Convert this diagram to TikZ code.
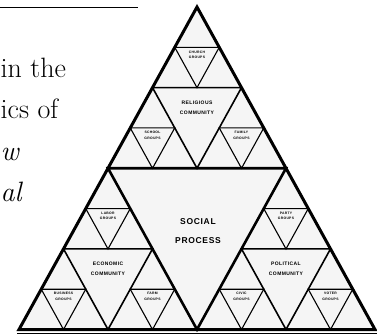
\documentclass[tikz,border=0pt]{standalone}
\usepackage{fontspec}
\newfontfamily\lblfont[LetterSpace=8]{Liberation Sans}
\tikzset{outertri/.style = {line width = 3pt, line join = miter}}
\tikzset{bigtri/.style = {draw, line width = 2.6pt, line join = miter}}
\tikzset{midtri/.style = {draw, line width = 1.6pt, line join = miter}}
\tikzset{smalltri/.style = {draw, line width = 1.1pt, line join = miter}}
\tikzset{biglabel/.style = {font = \lblfont\bfseries\fontsize{8.5}{19}\selectfont, align = center, inner sep = 0}}
\tikzset{midlabel/.style = {font = \lblfont\bfseries\fontsize{5}{10}\selectfont, align = center, inner sep = 0}}
\tikzset{smalllabel/.style = {font = \lblfont\bfseries\fontsize{3.4}{5.5}\selectfont, align = center, inner sep = 0}}
\tikzset{pagetext/.style = {font = \fontsize{28}{34}\selectfont, anchor = base west, inner sep = 0}}

\begin{document}
\begin{tikzpicture}[x = 1pt, y = -1pt]
	\useasboundingbox (0,0) rectangle (377,335);

	\draw[line width = 0.8pt] (0,7) -- (138,7);
	\node[pagetext] (p1) at (0.5,77) {in the};
	\node[pagetext] (p2) at (0.5,118) {ics of};
	\node[pagetext] (p3) at (0.5,160) {\itshape w};
	\node[pagetext] (p4) at (0.5,201) {\itshape al};

	\coordinate (a) at (197,7);
	\coordinate (b) at (19,329.5);
	\coordinate (c) at (375,329.5);
	\fill[black!4] (a) -- (b) -- (c) -- cycle;

	\draw[smalltri] (174.75,47.3) -- (219.25,47.3) -- (197,87.6) -- cycle;
	\draw[smalltri] (130.25,127.9) -- (174.75,127.9) -- (152.5,168.25) -- cycle;
	\draw[smalltri] (219.25,127.9) -- (263.75,127.9) -- (241.5,168.25) -- cycle;
	\draw[smalltri] (85.75,208.6) -- (130.25,208.6) -- (108,248.9) -- cycle;
	\draw[smalltri] (41.25,289.2) -- (85.75,289.2) -- (63.5,329.5) -- cycle;
	\draw[smalltri] (130.25,289.2) -- (174.75,289.2) -- (152.5,329.5) -- cycle;
	\draw[smalltri] (263.75,208.6) -- (308.25,208.6) -- (286,248.9) -- cycle;
	\draw[smalltri] (219.25,289.2) -- (263.75,289.2) -- (241.5,329.5) -- cycle;
	\draw[smalltri] (308.25,289.2) -- (352.75,289.2) -- (330.5,329.5) -- cycle;

	\draw[midtri] (152.5,87.6) -- (241.5,87.6) -- (197,168.25) -- cycle;
	\draw[midtri] (63.5,248.9) -- (152.5,248.9) -- (108,329.5) -- cycle;
	\draw[midtri] (241.5,248.9) -- (330.5,248.9) -- (286,329.5) -- cycle;

	\draw[bigtri] (108,168.25) -- (286,168.25) -- (197,329.5) -- cycle;
	\draw[outertri] (a) -- (b) -- (c) -- cycle;
	\draw[line width = 1.2pt] (17,333.3) -- (377,333.3);

	\node[biglabel] (social) at (198,231) {SOCIAL\\PROCESS};

	\node[midlabel] (top) at (197,108) {RELIGIOUS\\COMMUNITY};
	\node[midlabel] (left) at (108,269) {ECONOMIC\\COMMUNITY};
	\node[midlabel] (right) at (286,269) {POLITICAL\\COMMUNITY};

	\node[smalllabel] (t1) at (197,55) {CHURCH\\GROUPS};
	\node[smalllabel] (t2) at (152.5,135.5) {SCHOOL\\GROUPS};
	\node[smalllabel] (t3) at (241.5,135.5) {FAMILY\\GROUPS};
	\node[smalllabel] (l1) at (108,216) {LABOR\\GROUPS};
	\node[smalllabel] (l2) at (63.5,296.5) {BUSINESS\\GROUPS};
	\node[smalllabel] (l3) at (152.5,296.5) {FARM\\GROUPS};
	\node[smalllabel] (r1) at (286,216) {PARTY\\GROUPS};
	\node[smalllabel] (r2) at (241.5,296.5) {CIVIC\\GROUPS};
	\node[smalllabel] (r3) at (330.5,296.5) {VOTER\\GROUPS};
\end{tikzpicture}
\end{document}
